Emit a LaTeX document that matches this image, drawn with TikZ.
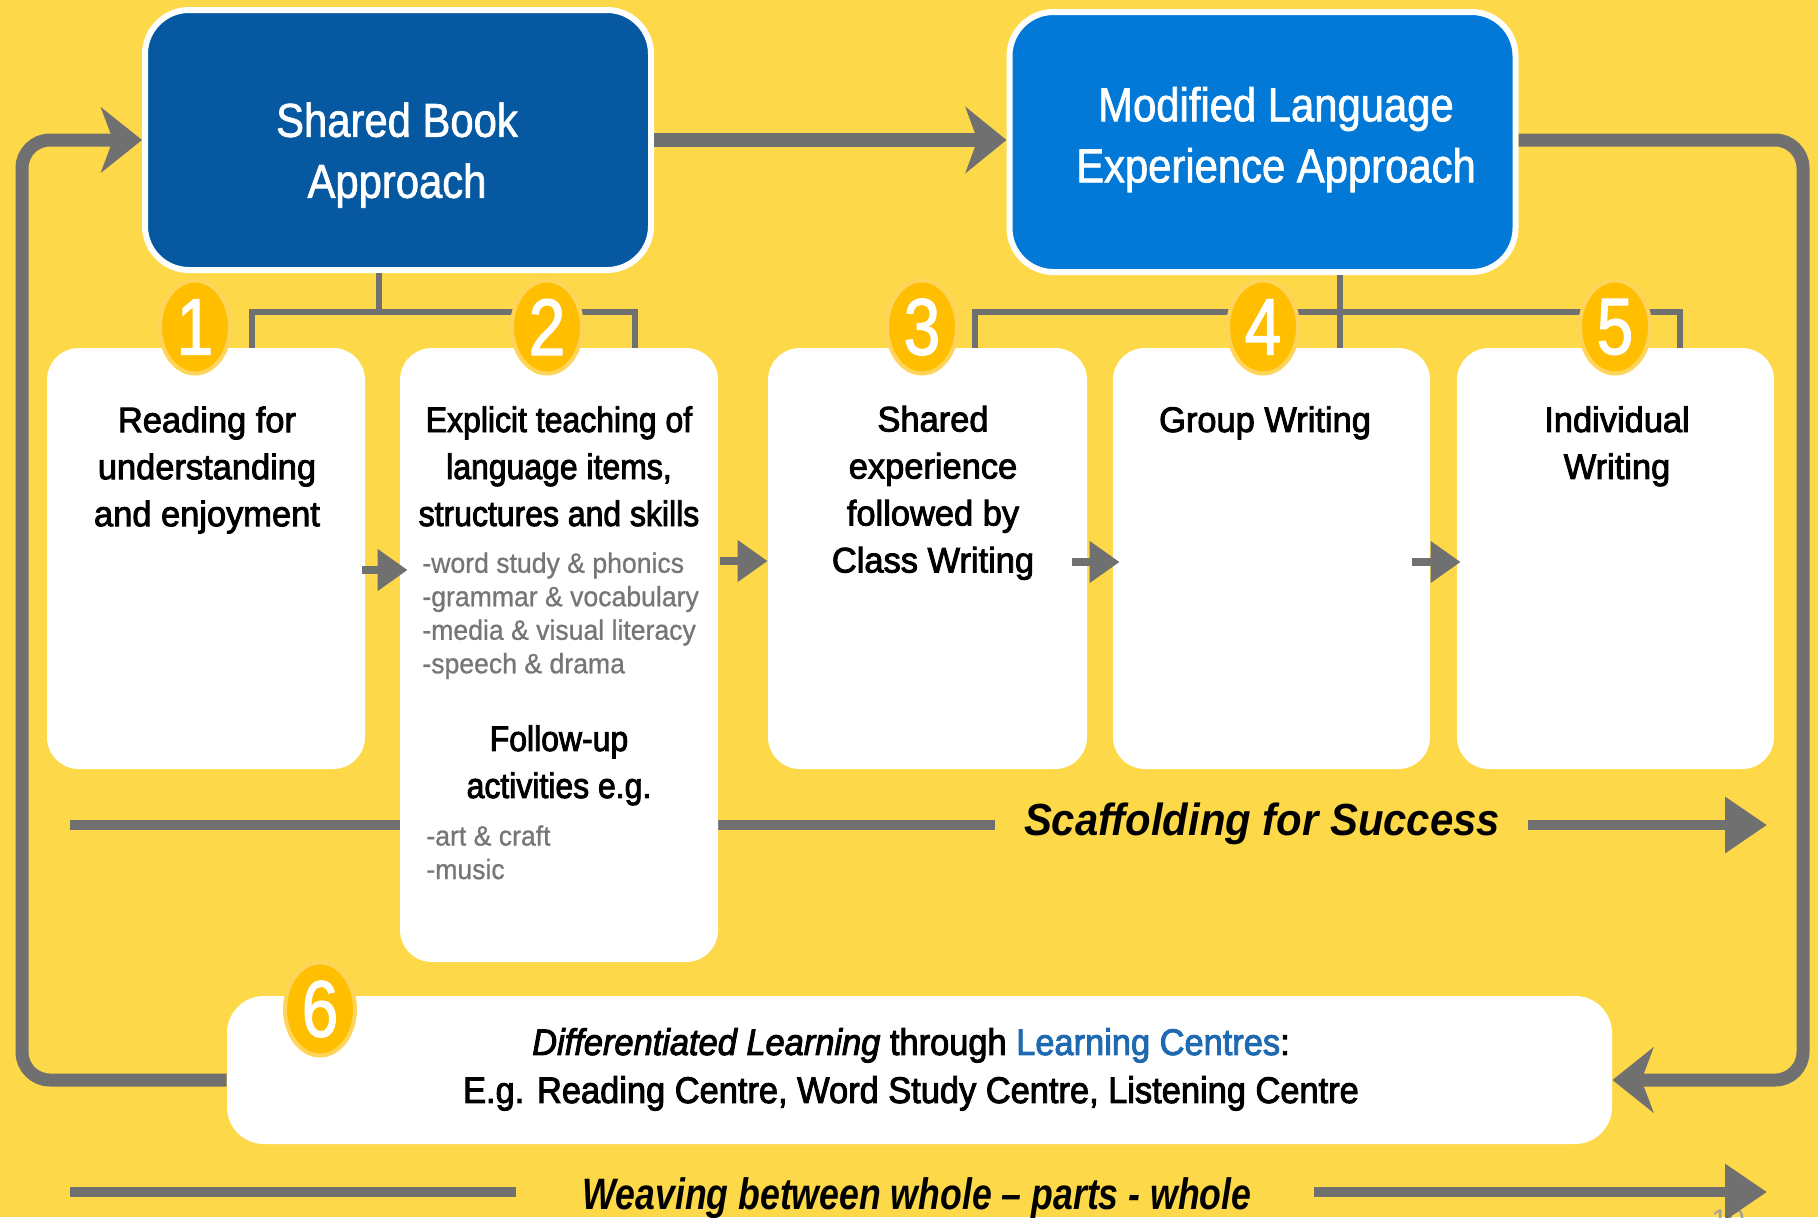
\documentclass[tikz,border=0pt]{standalone}
\usepackage{fontspec}
\setmainfont{Liberation Sans}
\newfontfamily\hdrfont{Liberation Sans}[FakeStretch=0.88, FakeBold=1.5]
\newfontfamily\cardfont{Liberation Sans}[FakeStretch=0.97, FakeBold=2.5]
\newfontfamily\cardfontn{Liberation Sans}[FakeStretch=0.90, FakeBold=2.5]
\newfontfamily\listfont{Liberation Sans}[FakeStretch=0.95, FakeBold=0.8]
\newfontfamily\sixfont{Liberation Sans}[FakeStretch=0.93, FakeBold=2.5]
\newfontfamily\scaffont{Liberation Sans}[FakeStretch=0.93]
\newfontfamily\weavefont{Liberation Sans}[FakeStretch=0.81]
\newfontfamily\digitfont{Liberation Sans}[FakeStretch=0.82, FakeBold=1.5]
\usetikzlibrary{shapes.geometric,arrows.meta}
\definecolor{bgyellow}{RGB}{253,216,72}
\definecolor{sbblue}{RGB}{6,89,160}
\definecolor{mlblue}{RGB}{2,120,215}
\definecolor{arrgray}{RGB}{112,112,112}
\definecolor{gold}{RGB}{255,190,0}
\definecolor{goldring}{RGB}{255,212,90}
\definecolor{listgray}{RGB}{118,118,118}
\definecolor{lcblue}{RGB}{30,105,175}
\definecolor{pagegray}{RGB}{160,160,160}
\tikzset{
  hdrbox/.style={draw=white, line width=3pt, rounded corners=22pt, inner sep=0pt,
    minimum width=253pt, minimum height=130pt},
  hdrtext/.style={text=white, align=center, inner sep=0pt,
    font=\hdrfont\fontsize{23.75pt}{30.5pt}\selectfont},
  card/.style={fill=white, rounded corners=16pt, inner sep=0pt, minimum width=159pt},
  sixbox/.style={fill=white, rounded corners=18.5pt, inner sep=0pt,
    minimum width=692.5pt, minimum height=74pt},
  cardtext/.style={align=center, inner sep=0pt,
    font=\cardfont\fontsize{17.75pt}{23.5pt}\selectfont},
  cardtextn/.style={align=center, inner sep=0pt,
    font=\cardfontn\fontsize{17.75pt}{23.5pt}\selectfont},
  listtext/.style={align=left, inner sep=0pt, text=listgray, anchor=west,
    font=\listfont\fontsize{14pt}{16.75pt}\selectfont},
  sixtext/.style={align=center, inner sep=0pt,
    font=\sixfont\fontsize{18.5pt}{24pt}\selectfont},
  badge/.style={ellipse, fill=gold, draw=goldring, line width=2pt,
    minimum width=35pt, minimum height=46.5pt, inner sep=0pt, text=white,
    font=\digitfont\fontsize{40pt}{40pt}\selectfont},
  brk/.style={draw=arrgray, line width=3pt},
  bigarr/.style={draw=arrgray, line width=7pt,
    -{Stealth[length=20.5pt, width=33pt, inset=6pt]}},
  loopl/.style={draw=arrgray, line width=6.5pt, rounded corners=14pt,
    -{Stealth[length=20.5pt, width=32.5pt, inset=6pt]}},
  thinarr/.style={draw=arrgray, line width=5pt},
  thinhead/.style={thinarr, -{Triangle[length=21pt, width=27pt]}},
  smarr/.style={draw=arrgray, line width=4pt, -{Triangle[length=15pt, width=20pt]}},
}
\begin{document}
\begin{tikzpicture}[x=0.5pt, y=-0.5pt]
\useasboundingbox (0,0) rectangle (1818,1217);
\clip (0,0) rectangle (1818,1217);
\fill[bgyellow] (0,0) rectangle (1818,1217);

% free-end coordinates
\coordinate (sa1) at (70,825);  \coordinate (sa2) at (995,825);
\coordinate (sa3) at (1528,825); \coordinate (sa4) at (1767,825);
\coordinate (wa1) at (70,1192); \coordinate (wa2) at (516,1192);
\coordinate (wa3) at (1314,1192); \coordinate (wa4) at (1767,1192);
\coordinate (lp) at (22,600); \coordinate (rp) at (1803,600);
\draw[thinarr] (sa1) -- (sa2);

% header boxes
\node[hdrbox, fill=sbblue] (sb) at (398,140) {};
\node[hdrbox, fill=mlblue] (ml) at (1262.5,142) {};
\node[hdrtext] (sbt) at (397,155) {Shared Book\\Approach};
\node[hdrtext] (mlt) at (1276,139.5) {Modified Language\\Experience Approach};

% cards
\node[card, minimum height=210.5pt] (c1) at (206,558.5) {};
\node[card, minimum height=307pt] (c2) at (559,655) {};
\node[card, minimum height=210.5pt, minimum width=159.5pt] (c3) at (927.5,558.5) {};
\node[card, minimum height=210.5pt, minimum width=158.5pt] (c4) at (1271.5,558.5) {};
\node[card, minimum height=210.5pt, minimum width=158.5pt] (c5) at (1615.5,558.5) {};
\node[sixbox] (dl) at (919.5,1070) {};

% brackets
\coordinate (j1) at (379,312); \coordinate (l1) at (252,312); \coordinate (l2) at (635,312);
\coordinate (j2) at (1340,312); \coordinate (r1) at (975,312); \coordinate (r2) at (1680,312);
\draw[brk] (sb.south -| j1) -- (j1);
\draw[brk] (c1.north -| l1) -- (l1) -- (l2) -- (c2.north -| l2);
\draw[brk] (ml.south -| j2) -- (c4.north -| j2);
\draw[brk] (c3.north -| r1) -- (r1) -- (r2) -- (c5.north -| r2);

% badges
\node[badge] (n1) at (195,327) {1};
\node[badge] (n2) at (547,327) {2};
\node[badge] (n3) at (922,327) {3};
\node[badge] (n4) at (1263,327) {4};
\node[badge] (n5) at (1615,327) {5};
\node[badge] (n6) at (320,1009) {6};

% card texts
\node[cardtext] (t1) at (207,470) {Reading for\\understanding\\and enjoyment};
\node[cardtextn] (t2) at (559,466.3) {Explicit teaching of\\language items,\\structures and skills};
\node[listtext] (t2l) at (422,615.75) {-word study \& phonics\\-grammar \& vocabulary\\-media \& visual literacy\\-speech \& drama};
\node[cardtextn] (t2f) at (559,765.3) {Follow-up\\activities e.g.};
\node[listtext] (t2m) at (426,852.3) {-art \& craft\\-music};
\node[cardtext] (t3) at (933,492.8) {Shared\\experience\\followed by\\Class Writing};
\node[cardtext] (t4) at (1265,422.8) {Group Writing};
\node[cardtext] (t5) at (1617,446.3) {Individual\\Writing};
\node[sixtext] (t6) at (911,1069.4) {\textit{Differentiated Learning} through \textcolor{lcblue}{Learning Centres}:\\E.g. Reading Centre, Word Study Centre, Listening Centre};

% band labels
\node[anchor=base, inner sep=0pt, font=\scaffont\bfseries\itshape\fontsize{22.5pt}{27pt}\selectfont] (scaf) at (1262,835) {Scaffolding for Success};
\node[anchor=base, inner sep=0pt, font=\weavefont\bfseries\itshape\fontsize{22pt}{26pt}\selectfont] (weave) at (917,1209) {Weaving between whole – parts - whole};
\node[anchor=base west, inner sep=0pt, text=pagegray, font=\fontsize{15pt}{18pt}\selectfont] (pg) at (1711,1230) {10};

% band arrows
\draw[thinhead] (sa3) -- (sa4);
\draw[thinarr] (wa1) -- (wa2);
\draw[thinhead] (wa3) -- (wa4);

% main flow
\draw[bigarr] (sb.east) -- (sb.east -| ml.west);
\draw[loopl] ([yshift=-5pt]dl.west) -| (lp) |- (sb.west);
\draw[loopl] (sb.east -| ml.east) -| (rp) |- ([yshift=-5pt]dl.east);

% small arrows between cards
\draw[smarr, shorten <=-1.5pt, shorten >=-4pt] ([yshift=-5.75pt]c1.east) -- ([yshift=-5.75pt]c1.east -| c2.west);
\draw[smarr, shorten <=1pt] ([yshift=-1.25pt]c3.west -| c2.east) -- ([yshift=-1.25pt]c3.west);
\draw[smarr, shorten <=-7.5pt, shorten >=-3.5pt] ([yshift=-1.75pt]c3.east) -- ([yshift=-1.75pt]c4.west);
\draw[smarr, shorten <=-9pt, shorten >=-2pt] ([yshift=-1.75pt]c4.east) -- ([yshift=-1.75pt]c5.west);
\end{tikzpicture}
\end{document}
